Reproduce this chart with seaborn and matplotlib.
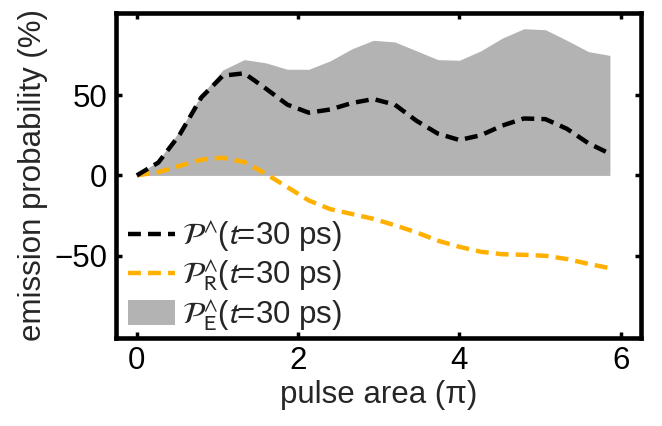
import matplotlib
matplotlib.use("Agg")
import matplotlib.pyplot as plt
import numpy as np
import pandas as pd
import seaborn as sns

# pulse area in units of pi
pulse_area = [0.0, 0.267, 0.533, 0.8, 1.067, 1.333, 1.6, 1.867, 2.133, 2.4, 2.667, 2.933,
              3.2, 3.467, 3.733, 4.0, 4.267, 4.533, 4.8, 5.067, 5.333, 5.6, 5.867]

# total emission probability (%)
p_total = [0.0, 8.0, 25.5, 48.5, 62.0, 63.5, 54.0, 44.0, 39.0, 41.0, 45.0, 47.5,
           44.0, 34.0, 26.0, 22.0, 25.0, 31.0, 35.4, 35.0, 29.0, 20.0, 13.5]

# right-circular part (%)
p_right = [0.0, 2.0, 6.0, 9.8, 11.0, 8.3, 1.0, -7.3, -15.6, -21.0, -24.0, -27.0,
           -31.0, -35.4, -40.6, -44.4, -47.5, -49.0, -49.4, -50.0, -52.0, -55.0, -57.7]

# envelope part (%)
p_env = [0.0, 9.0, 28.0, 50.0, 65.6, 72.0, 70.0, 66.0, 66.0, 71.3, 78.7, 84.0,
         83.0, 77.5, 72.0, 71.6, 77.5, 85.4, 91.2, 90.6, 84.0, 77.0, 74.6]

x_ticks = [0, 2, 4, 6]
y_ticks = [-50, 0, 50]

lab_total = r"$\mathcal{P}^{\wedge}$($t$=30 ps)"
lab_right = r"$\mathcal{P}^{\wedge}_{\rm R}$($t$=30 ps)"
lab_env = r"$\mathcal{P}^{\wedge}_{\rm E}$($t$=30 ps)"

df = pd.DataFrame({"area": pulse_area, "total": p_total, "right": p_right, "env": p_env})

sns.set_theme(style="ticks")
plt.rcParams["font.family"] = ["Liberation Sans", "DejaVu Sans"]
plt.rcParams["mathtext.fontset"] = "stixsans"
plt.rcParams["axes.unicode_minus"] = True

FS = 22.5

fig = plt.figure(figsize=(6.62, 4.26), dpi=100)
ax = fig.add_axes([0.175, 0.207, 0.793, 0.7625])

gray = "#b3b3b3"
orange = "#ffb000"
dash = (0, (2.9, 1.6))

ax.fill_between(df["area"], 0, df["env"], color=gray, linewidth=0, label=lab_env)
sns.lineplot(data=df, x="area", y="right", ax=ax, color=orange, linewidth=3.2,
             linestyle=dash, label=lab_right)
sns.lineplot(data=df, x="area", y="total", ax=ax, color="black", linewidth=3.2,
             linestyle=dash, label=lab_total)

ax.set_xlim(-0.26, 6.25)
ax.set_ylim(-101, 101)
ax.set_xticks(x_ticks)
ax.set_yticks(y_ticks)
ax.tick_params(direction="in", length=4, width=2.5, top=True, right=True,
               labelsize=FS, pad=6, colors="black")
for s in ax.spines.values():
    s.set_linewidth(3.3)
    s.set_color("black")

ax.set_xlabel("pulse area (π)", fontsize=FS, labelpad=3)
ax.set_ylabel("emission probability (%)", fontsize=FS, labelpad=5)

handles, labels = ax.get_legend_handles_labels()
order = [labels.index(lab_total), labels.index(lab_right), labels.index(lab_env)]
ax.legend([handles[i] for i in order], [labels[i] for i in order],
          loc="lower left", bbox_to_anchor=(0.009, -0.008), frameon=False,
          fontsize=FS, handlelength=1.5, handleheight=0.85, handletextpad=0.2,
          labelspacing=0.15, borderaxespad=0.0, borderpad=0.25)

fig.savefig("out.png", dpi=100)
